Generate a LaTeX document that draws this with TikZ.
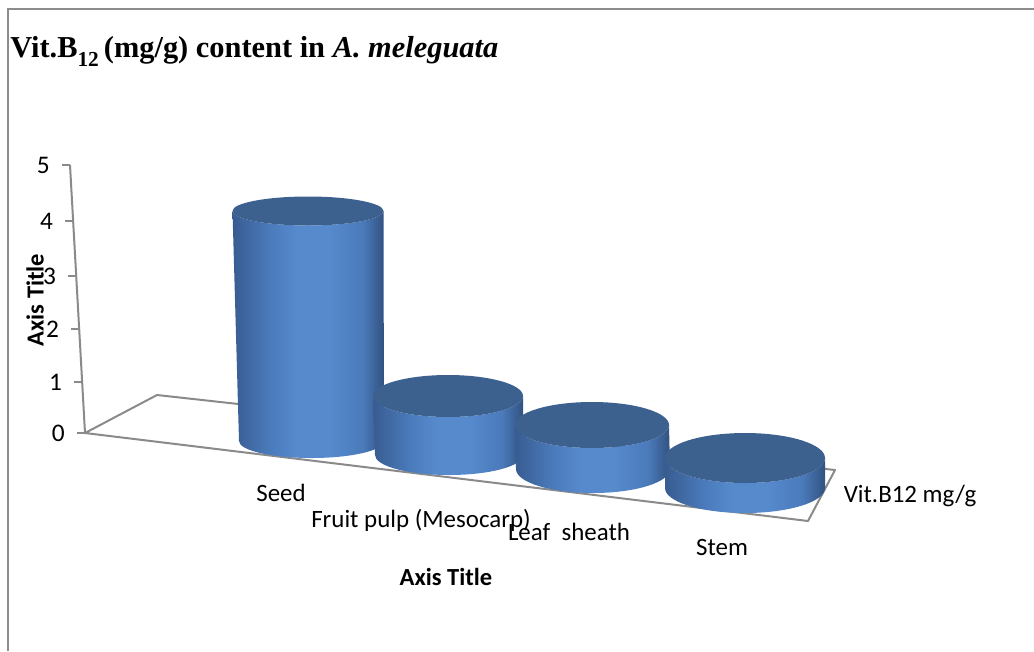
\documentclass[tikz,border=0pt]{standalone}
\usepackage{fontspec}
\setmainfont{Liberation Serif}
\newfontfamily\chartfont{Carlito}

\definecolor{framegray}{RGB}{140,140,140}
\definecolor{axisgray}{RGB}{138,138,138}
\definecolor{cylTop}{RGB}{61,97,142}
\definecolor{cylA}{RGB}{56,92,145}
\definecolor{cylB}{RGB}{74,122,186}
\definecolor{cylC}{RGB}{86,138,205}
\definecolor{cylD}{RGB}{50,82,128}

% side of a cylinder: dark edges, bright band a little left of centre
\pgfdeclarehorizontalshading{cylside}{100bp}{color(0bp)=(cylA); color(25bp)=(cylA); color(37bp)=(cylB); color(46bp)=(cylC); color(57bp)=(cylC); color(68bp)=(cylB); color(75bp)=(cylD); color(100bp)=(cylD)}

% #1,#2 top centre, #3,#4 top radii, #5,#6 bottom centre, #7,#8 bottom radii
\newcommand\barcyl[8]{%
  \shade[shading=cylside] ({#1-#3},#2) -- ({#5-#7},#6)
    arc[start angle=180,end angle=0,x radius=#7,y radius=#8]
    -- ({#1+#3},#2)
    arc[start angle=0,end angle=180,x radius=#3,y radius=#4] -- cycle;
  \fill[cylTop] (#1,#2) ellipse[x radius=#3,y radius=#4];
}

\tikzset{
  frame/.style={draw=framegray,line width=1.4pt},
  axisline/.style={draw=axisgray,line width=1.5pt,line join=round},
  ticklbl/.style={font=\chartfont\fontsize{19}{21}\selectfont,anchor=east,inner sep=0pt},
  catlbl/.style={font=\chartfont\fontsize{18.7}{21}\selectfont,inner sep=0pt},
  axtitle/.style={font=\chartfont\bfseries\fontsize{18.4}{21}\selectfont,inner sep=0pt},
}

\begin{document}
\begin{tikzpicture}[x=0.75pt,y=-0.75pt]
\useasboundingbox (0,0) rectangle (1034,651);

% chart frame (top and left edges)
\draw[frame] (8,651) -- (8,9) -- (1034,9);

% title
\node[anchor=base west,inner sep=0pt,font=\bfseries\fontsize{22.8}{26}\selectfont] (title) at (10,57)
  {Vit.B\raisebox{-0.3em}{\fontsize{16}{18}\selectfont 12}\,(mg/g) content in \textit{A. meleguata}};

% floor of the plot area
\draw[axisline] (85,433) -- (157,395) -- (835,470) -- (808,521) -- cycle;

% value axis with ticks
\draw[axisline] (70,165) coordinate (ytop) -- (85,433) coordinate (ybot);
\foreach \v/\yy in {0/433,1/382,2/329,3/276,4/221,5/165}{
  \pgfmathsetmacro\xx{70+15*(\yy-165)/268}
  \draw[axisline] ({\xx-8},\yy) -- (\xx,\yy);
  \node[ticklbl] (tick\v) at ({\xx-20},\yy) {\v};
}

% cylinders, back to front
\barcyl{308}{211}{75.5}{14.5}{311.5}{441}{72.5}{17}
\barcyl{448}{396}{75}{21}{449}{455}{74}{20}
\barcyl{592}{425}{77}{23}{593}{469}{77}{24}
\barcyl{745}{458}{80}{25}{745}{488}{80}{25}

% category labels
\node[catlbl] (seed) at (281,493) {Seed};
\node[catlbl] (pulp) at (421,520) {Fruit pulp (Mesocarp)};
\node[catlbl] (leaf) at (569,532) {Leaf\ \ sheath};
\node[catlbl] (stem) at (722,547) {Stem};
\node[catlbl] (series) at (910,496) {Vit.B12 mg/g};

% axis titles
\node[axtitle] (xtitle) at (446,577) {Axis Title};
\node[axtitle,rotate=90] (ytitle) at (35,300) {Axis Title};
\end{tikzpicture}
\end{document}
